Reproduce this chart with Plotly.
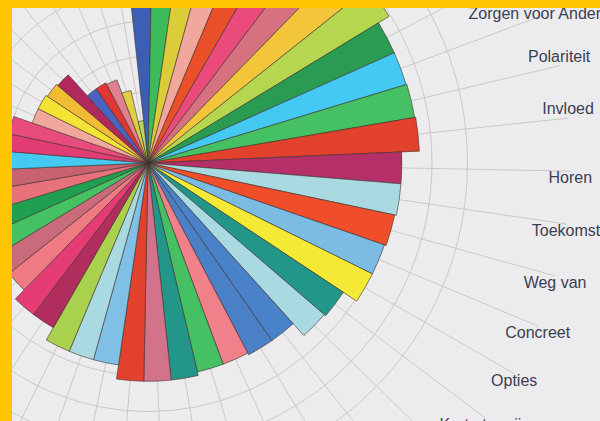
import plotly.graph_objects as go

# ---------------------------------------------------------------- data
# 50 categories, clockwise from the top. Only items 11-19 are legible in the
# photographed chart; the others lie outside the visible crop.
READABLE_LABELS = ["Zorgen voor Anderen", "Polariteit", "Invloed", "Horen",
                   "Toekomst", "Weg van", "Concreet", "Opties", "Korte termijn"]
CATEGORIES = ([f"Categorie {i}" for i in range(1, 11)] + READABLE_LABELS
              + [f"Categorie {i}" for i in range(20, 51)])

VALUES = [9.2, 9.0, 8.8, 8.7, 8.6, 8.4, 8.3, 8.1, 7.95, 7.6,
          7.6, 7.62, 7.65, 7.15, 7.15, 7.1, 7.05, 7.05, 6.6, 6.55,
          6.1, 6.1, 6.05, 6.05, 6.15, 6.15, 6.15, 5.75, 5.75, 5.75,
          5.35, 5.35, 5.0, 4.9, 4.8, 4.7, 4.6, 4.45, 4.3, 4.15,
          4.0, 3.45, 3.45, 3.4, 3.35, 2.55, 2.55, 2.5, 2.1, 1.2]

COLORS = ["#3d5eb5", "#3dbb5a", "#dccc3a", "#f2a79c", "#e9502a",
          "#ea4a7c", "#d6717f", "#f3c53a", "#b5d64e", "#2a9b52",
          "#44c9f2", "#45c163", "#e2412c", "#b53069", "#a9d9e1",
          "#f04e2a", "#7cbbe3", "#f4e935", "#23968a", "#a9d9e1",
          "#4a82c9", "#4a80c6", "#f0808a", "#45c163", "#23968a",
          "#d2738b", "#e2412c", "#80c0e6", "#a9d9e1", "#a9d14e",
          "#b02d5e", "#e63c74", "#ef7a82", "#c96b7a", "#45c163",
          "#219f50", "#e8727c", "#c96270", "#44c9f2", "#e23d72",
          "#e84c7c", "#f2a79c", "#f2e334", "#f1bb34", "#b0295a",
          "#4a62c2", "#e23632", "#e0808f", "#e0cf40", "#b3d862"]

GRID_LEVELS = [1, 2, 3, 4, 5, 6, 7, 8, 9]
RADIAL_MAX = 11.9          # spokes end here, labels sit at their ends

# ---------------------------------------------------------------- style
VIEW_W, VIEW_H = 600, 421      # visible window
POLE_X, POLE_Y = 148, 163      # where the pole appears in the window
UNIT_PX = 35.5                 # pixels per radial unit
FW, FH = 920, 900              # full figure (the photo is a crop of it)
FCX, FCY = 460, 450            # pole inside the full figure
GRID_COLOR = "#cdc8c1"
BG = "#ececee"
FRAME = "#ffc600"
LABEL_POS = ["middle center", "top center", "top center"] + ["bottom center"] * 6

rad = RADIAL_MAX * UNIT_PX
dom_x = [(FCX - rad) / FW, (FCX + rad) / FW]
dom_y = [(FH - FCY - rad) / FH, (FH - FCY + rad) / FH]
shift_x, shift_y = POLE_X - FCX, POLE_Y - FCY

fig = go.Figure()

fig.add_trace(go.Barpolar(
    theta=CATEGORIES, r=VALUES,
    marker=dict(color=COLORS, line=dict(color="rgba(60,48,44,0.85)", width=0.7)),
    showlegend=False))

fig.add_trace(go.Scatterpolar(
    theta=READABLE_LABELS, r=[RADIAL_MAX] * len(READABLE_LABELS),
    mode="text", text=READABLE_LABELS, textposition=LABEL_POS,
    textfont=dict(family="Liberation Sans, Arial, sans-serif", size=16,
                  color="#3b4050"),
    cliponaxis=False, hoverinfo="skip", showlegend=False))

# yellow photo frame (left and top strips of the visible window)
lx0 = (-shift_x) / FW
ty1 = 1 - (-shift_y) / FH
fig.update_layout(
    width=FW, height=FH,
    margin=dict(l=0, r=0, t=0, b=0, pad=0),
    paper_bgcolor=BG,
    showlegend=False,
    polar=dict(
        domain=dict(x=dom_x, y=dom_y),
        bgcolor="rgba(0,0,0,0)",
        bargap=0,
        angularaxis=dict(direction="clockwise", rotation=92.5,
                         showticklabels=False, ticks="", showline=False,
                         gridcolor=GRID_COLOR, gridwidth=1),
        radialaxis=dict(range=[0, RADIAL_MAX], tickmode="array",
                        tickvals=GRID_LEVELS, showticklabels=False, ticks="",
                        showline=False, gridcolor=GRID_COLOR, gridwidth=1),
    ),
    shapes=[
        dict(type="rect", xref="paper", yref="paper",
             x0=lx0, x1=lx0 + 12 / FW, y0=0, y1=ty1,
             fillcolor=FRAME, line=dict(width=0), layer="above"),
        dict(type="rect", xref="paper", yref="paper",
             x0=lx0, x1=1, y0=ty1 - 8 / FH, y1=ty1,
             fillcolor=FRAME, line=dict(width=0), layer="above"),
    ],
)

# show only the photographed crop of the full chart in the window
post = f"""
document.documentElement.style.overflow='hidden';
document.body.style.margin='0';
document.body.style.overflow='hidden';
document.body.style.background='{BG}';
var gd=document.getElementById('{{plot_id}}');
gd.style.position='absolute';
gd.style.left='{shift_x}px';
gd.style.top='{shift_y}px';
"""

fig.write_html("out.html", config={"displayModeBar": False}, post_script=post)
